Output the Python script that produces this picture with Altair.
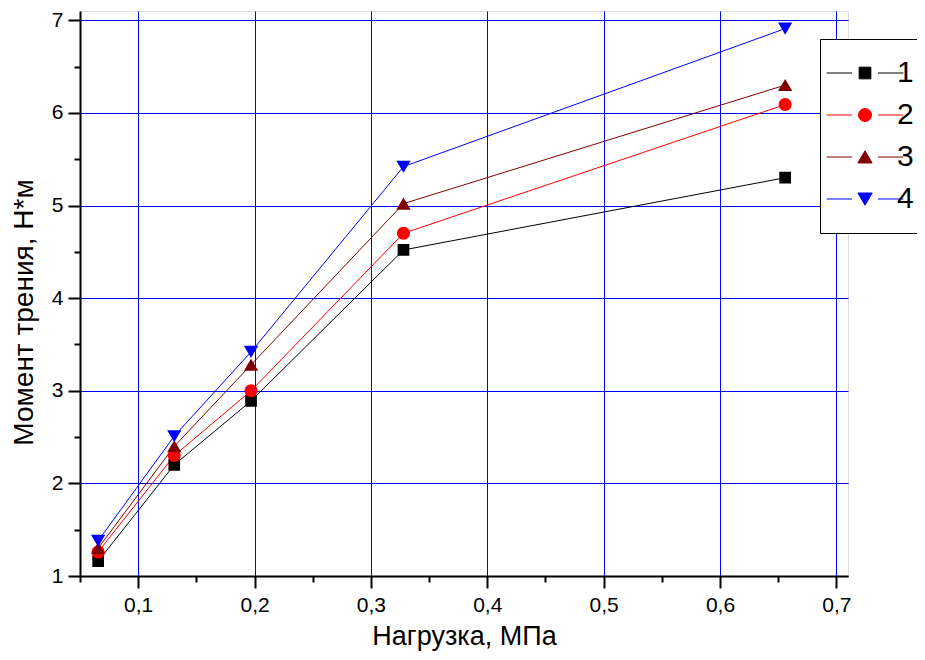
import altair as alt
import pandas as pd

# ---- data ----
load_mpa = [0.0656, 0.131, 0.197, 0.328, 0.656]
series_names = ["1", "2", "3", "4"]
moment_1 = [1.16, 2.20, 2.89, 4.52, 5.30]
moment_2 = [1.26, 2.30, 3.00, 4.70, 6.09]
moment_3 = [1.30, 2.40, 3.28, 5.02, 6.30]
moment_4 = [1.38, 2.51, 3.42, 5.42, 6.91]
series_values = [moment_1, moment_2, moment_3, moment_4]

x_ticks = [0.05, 0.1, 0.15, 0.2, 0.25, 0.3, 0.35, 0.4, 0.45, 0.5, 0.55, 0.6, 0.65, 0.7]
y_ticks = [1, 1.5, 2, 2.5, 3, 3.5, 4, 4.5, 5, 5.5, 6, 6.5, 7]

colors = ["#000000", "#ff0000", "#800000", "#0000ff"]

# marker + short line segments on both sides (the segments have no area, so they
# only show where a stroke is drawn, i.e. in the legend)
_line = "M-5.9,0H-2M2,0H5.9"
marker_shapes = [
    _line + "M-0.9,-0.9H0.9V0.9H-0.9Z",
    _line + "M1,0A1,1,0,1,1,-1,0A1,1,0,1,1,1,0Z",
    _line + "M0,-0.95L1.1,0.92H-1.1Z",
    _line + "M0,0.95L1.1,-0.92H-1.1Z",
]

rows = []
for name, vals in zip(series_names, series_values):
    for xv, yv in zip(load_mpa, vals):
        rows.append({"load": xv, "moment": yv, "series": name})
df = pd.DataFrame(rows)

FONT = "Liberation Sans"

x_minor = "round(datum.value*20) % 2 == 1"
y_minor = "round(datum.value*2) % 2 == 1"

x_axis = alt.Axis(
    values=x_ticks,
    grid=True, gridColor="#0000ff", gridWidth=1,
    gridOpacity={"condition": {"test": x_minor, "value": 0}, "value": 1},
    tickSize={"condition": {"test": x_minor, "value": 6}, "value": 12},
    tickWidth=2, tickColor="black",
    domainColor="black", domainWidth=2,
    labelExpr=f"{x_minor} ? '' : replace(format(datum.value, '.1f'), '.', ',')",
    labelFont=FONT, labelFontSize=21, labelColor="black", labelPadding=6,
    labelOverlap=False, labelFlush=False,
    titleFont=FONT, titleFontSize=27, titleFontWeight="normal", titleColor="black",
    titlePadding=8,
)
y_axis = alt.Axis(
    values=y_ticks,
    grid=True, gridColor="#0000ff", gridWidth=1,
    gridOpacity={"condition": {"test": y_minor, "value": 0}, "value": 1},
    tickSize={"condition": {"test": y_minor, "value": 6}, "value": 12},
    tickWidth=2, tickColor="black",
    domainColor="black", domainWidth=2,
    labelExpr=f"{y_minor} ? '' : format(datum.value, 'd')",
    labelFont=FONT, labelFontSize=21, labelColor="black", labelPadding=5,
    labelOverlap=False, labelFlush=False,
    titleFont=FONT, titleFontSize=28, titleFontWeight="normal", titleColor="black",
    titlePadding=13, titleY=301,
)

x_enc = alt.X("load:Q", title="Нагрузка, МПа",
              scale=alt.Scale(domain=[0.05, 0.71], nice=False, zero=False), axis=x_axis)
y_enc = alt.Y("moment:Q", title="Момент трения, Н*м",
              scale=alt.Scale(domain=[1, 7.1], nice=False, zero=False), axis=y_axis)

color_scale = alt.Scale(domain=series_names, range=colors)
shape_scale = alt.Scale(domain=series_names, range=marker_shapes)

leg = alt.Legend(
    title=None, orient="none", legendX=740, legendY=28,
    labelFont=FONT, labelFontSize=30, labelColor="black", labelLimit=200,
    symbolSize=169, symbolStrokeWidth=1, symbolOffset=11, labelOffset=17,
    padding=19, rowPadding=12,
    strokeColor="black", fillColor="white",
)

base = alt.Chart(df)

lines = base.mark_line(strokeWidth=1).encode(
    x=x_enc, y=y_enc,
    stroke=alt.Stroke("series:N", scale=color_scale, legend=leg),
)

points = base.mark_point(filled=True, size=169, opacity=1, strokeWidth=0).encode(
    x=x_enc, y=y_enc,
    fill=alt.Fill("series:N", scale=color_scale, legend=leg),
    stroke=alt.Stroke("series:N", scale=color_scale, legend=leg),
    shape=alt.Shape("series:N", scale=shape_scale, legend=leg),
)

chart = alt.layer(lines, points).properties(
    width=768, height=565,
    autosize=alt.AutoSizeParams(type="none"),
    padding={"left": 72, "top": 3, "right": 69, "bottom": 76},
).configure_view(stroke=None).configure(background="white")

chart.save("out.html", embed_options={"renderer": "svg", "actions": False})
